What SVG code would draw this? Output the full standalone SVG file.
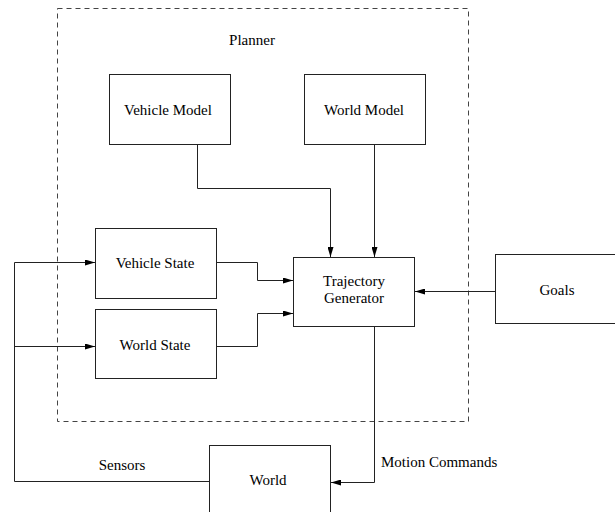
<svg xmlns="http://www.w3.org/2000/svg" width="615" height="512" viewBox="0 0 615 512">
<style>
.box{fill:#fff;stroke:#222;stroke-width:1}
.ln{fill:none;stroke:#222;stroke-width:1}
.dash{fill:none;stroke:#444;stroke-width:1;stroke-dasharray:5,4}
text{font-family:"Liberation Serif","Times New Roman",serif;font-size:15px;fill:#000;text-anchor:middle}
</style>
<defs>
<marker id="ah" viewBox="0 0 10 6" refX="10" refY="3" markerWidth="10" markerHeight="6" markerUnits="userSpaceOnUse" orient="auto">
<path d="M0,0 L10,3 L0,6 Z" fill="#000"/>
</marker>
</defs>
<g id="planner">
<rect class="dash" x="57.5" y="8.5" width="411" height="413"/>
<text x="252" y="45">Planner</text>
</g>
<g id="vehicle-model">
<rect class="box" x="109.5" y="74.5" width="121" height="70"/>
<text x="168" y="115">Vehicle Model</text>
</g>
<g id="world-model">
<rect class="box" x="304.5" y="74.5" width="121" height="70"/>
<text x="364" y="115">World Model</text>
</g>
<g id="vehicle-state">
<rect class="box" x="95.5" y="228.5" width="121" height="70"/>
<text x="155" y="268">Vehicle State</text>
</g>
<g id="world-state">
<rect class="box" x="95.5" y="309.5" width="121" height="69"/>
<text x="155" y="350">World State</text>
</g>
<g id="trajectory-generator">
<rect class="box" x="293.5" y="257.5" width="121" height="69"/>
<text x="354" y="286">Trajectory</text>
<text x="354" y="303">Generator</text>
</g>
<g id="goals">
<rect class="box" x="495.5" y="254.5" width="130" height="69"/>
<text x="557" y="295">Goals</text>
</g>
<g id="world">
<rect class="box" x="209.5" y="445.5" width="121" height="80"/>
<text x="268" y="485">World</text>
</g>
<g id="connectors">
<path class="ln" d="M197.5,144.5 V188.5 H330.5 V257" marker-end="url(#ah)"/>
<path class="ln" d="M374.5,144.5 V257" marker-end="url(#ah)"/>
<path class="ln" d="M216.5,262.5 H257.5 V280.5 H293" marker-end="url(#ah)"/>
<path class="ln" d="M216.5,346.5 H257.5 V313.5 H293" marker-end="url(#ah)"/>
<path class="ln" d="M495.5,291.5 H415" marker-end="url(#ah)"/>
<path class="ln" d="M374.5,326.5 V482.5 H331" marker-end="url(#ah)"/>
<path class="ln" d="M209.5,481.5 H14.5 V262.5 H95" marker-end="url(#ah)"/>
<path class="ln" d="M14.5,346.5 H95" marker-end="url(#ah)"/>
<text x="122" y="470">Sensors</text>
<text x="381" y="467" style="text-anchor:start">Motion Commands</text>
</g>
</svg>
